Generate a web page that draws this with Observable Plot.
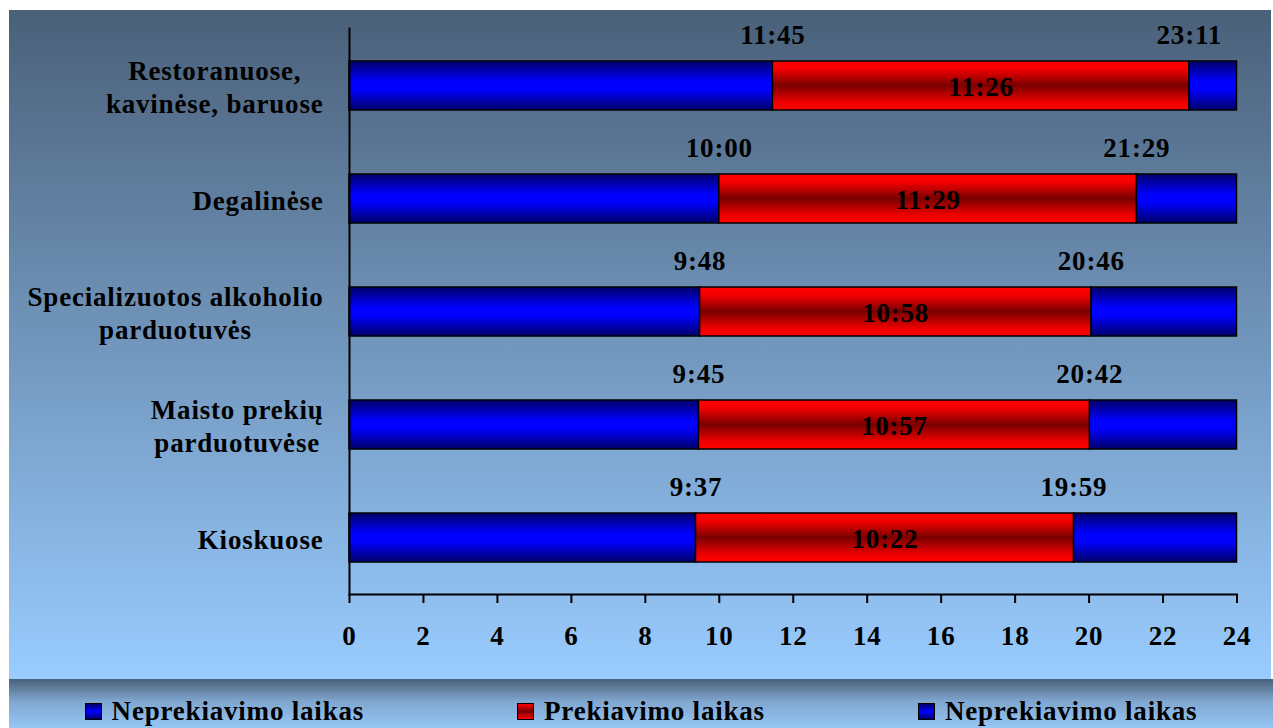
<!DOCTYPE html>
<html>
<head>
<meta charset="utf-8">
<script src="https://cdn.jsdelivr.net/npm/d3@7"></script>
<script src="https://cdn.jsdelivr.net/npm/@observablehq/plot@0.6"></script>
<style>
  html, body { margin: 0; padding: 0; background: #fff; }
  body { width: 1273px; height: 728px; overflow: hidden; position: relative;
         font-family: "Liberation Serif", "Times New Roman", serif; }
  #bg { position: absolute; left: 9px; top: 10px; width: 1262px; height: 669px;
        background: linear-gradient(to bottom, #4a6079 0%, #99ccff 100%); }
  #chart { position: absolute; left: 0; top: 0; }
  #legend { position: absolute; left: 9px; top: 679px; width: 1264px; height: 49px;
            background: linear-gradient(to bottom, #4a6079 0%, #7fa6cf 45%, #96c6f4 100%);
            display: flex; justify-content: center; align-items: center; gap: 153px; padding-top: 16px; box-sizing: border-box; }
  .item { display: flex; align-items: center; gap: 10px; font-weight: bold; font-size: 27px; letter-spacing: 0.8px; color: #000; white-space: nowrap; }
  .sw { width: 15px; height: 15px; border: 1.5px solid #000; }
</style>
</head>
<body>
<svg width="0" height="0" style="position:absolute">
  <defs>
    <linearGradient id="gBlue" x1="0" y1="0" x2="0" y2="1">
      <stop offset="0" stop-color="#00006a"/>
      <stop offset="0.42" stop-color="#0000ff"/>
      <stop offset="0.58" stop-color="#0000ff"/>
      <stop offset="1" stop-color="#00006a"/>
    </linearGradient>
    <linearGradient id="gRed" x1="0" y1="0" x2="0" y2="1">
      <stop offset="0" stop-color="#ff0000"/>
      <stop offset="0.15" stop-color="#f80000"/>
      <stop offset="0.5" stop-color="#7a0000"/>
      <stop offset="0.85" stop-color="#f00000"/>
      <stop offset="1" stop-color="#ff0000"/>
    </linearGradient>
  </defs>
</svg>
<div id="bg"></div>
<div id="chart"></div>
<div id="legend"></div>
<script>
// ---- data ----
const categories = [
  "Restoranuose,\nkavinėse, baruose",
  "Degalinėse",
  "Specializuotos alkoholio\nparduotuvės",
  "Maisto prekių\nparduotuvėse",
  "Kioskuose"
];
const openAt = [11.45, 10.00, 9.48, 9.45, 9.37];
const openFor = [11.26, 11.29, 10.58, 10.57, 10.22];
const openLabels = ["11:45", "10:00", "9:48", "9:45", "9:37"];
const durationLabels = ["11:26", "11:29", "10:58", "10:57", "10:22"];
const closeLabels = ["23:11", "21:29", "20:46", "20:42", "19:59"];
const seriesNames = ["Neprekiavimo laikas", "Prekiavimo laikas", "Neprekiavimo laikas"];
const seriesFills = ["blue", "red", "blue"];
const dayHours = 24;
const xTicks = [0, 2, 4, 6, 8, 10, 12, 14, 16, 18, 20, 22, 24];

// ---- derived tables ----
const rows = categories.map((cat, i) => ({
  cat, open: openAt[i], close: openAt[i] + openFor[i],
  openLabel: openLabels[i], durLabel: durationLabels[i], closeLabel: closeLabels[i]
}));
const blueSegs = rows.flatMap(r => [
  {cat: r.cat, x1: 0, x2: r.open},
  {cat: r.cat, x1: r.close, x2: dayHours}
]);
const redSegs = rows.map(r => ({cat: r.cat, x1: r.open, x2: r.close}));

const FONT = "'Liberation Serif', 'Times New Roman', serif";
const LS = 0.8;
const ctx = document.createElement("canvas").getContext("2d");
ctx.font = "bold 27px 'Liberation Serif'";
const blockWidth = c => d3.max(c.split("\n"), line => ctx.measureText(line).width + LS * line.length);

const yLabelMarks = categories.map(c =>
  Plot.text([c], {
    y: d => d, text: d => d, frameAnchor: "left", textAnchor: "middle",
    dx: -(26 + blockWidth(c) / 2), lineHeight: 1.22, fill: "#000"
  })
);

const plot = Plot.plot({
  width: 1273, height: 679,
  marginLeft: 349, marginRight: 36.5, marginTop: 28, marginBottom: 85,
  style: {background: "transparent", color: "#000", fontFamily: FONT, fontSize: "27px",
          fontWeight: "bold", letterSpacing: LS + "px", overflow: "visible"},
  x: {domain: [0, dayHours]},
  y: {domain: categories, paddingInner: 0.567, paddingOuter: 0.2835, axis: null},
  marks: [
    Plot.barX(blueSegs, {y: "cat", x1: "x1", x2: "x2", fill: "url(#gBlue)", stroke: "#000", strokeWidth: 1.5, inset: 0}),
    Plot.barX(redSegs, {y: "cat", x1: "x1", x2: "x2", fill: "url(#gRed)", stroke: "#000", strokeWidth: 1.5, inset: 0}),
    Plot.frame({anchor: "left", strokeWidth: 2}),
    Plot.frame({anchor: "bottom", strokeWidth: 2}),
    Plot.axisX({ticks: xTicks, tickSize: 9, tickPadding: 22, strokeWidth: 2, tickFormat: d => String(d), fill: "#000"}),
    Plot.text(rows, {y: "cat", x: "open", text: "openLabel", dy: -51, fill: "#000"}),
    Plot.text(rows, {y: "cat", x: "close", text: "closeLabel", dy: -51, fill: "#000"}),
    Plot.text(rows, {y: "cat", x: d => (d.open + d.close) / 2, text: "durLabel", dy: 1, fill: "#000"}),
    ...yLabelMarks
  ]
});
document.getElementById("chart").appendChild(plot);

// ---- legend ----
const legend = d3.select("#legend");
seriesNames.forEach((name, i) => {
  const item = legend.append("div").attr("class", "item");
  item.append("div").attr("class", "sw")
    .style("background", seriesFills[i] === "red"
      ? "linear-gradient(to bottom, #ff0000, #7a0000 50%, #ff0000)"
      : "linear-gradient(to bottom, #00006a, #0000ff 50%, #00006a)");
  item.append("span").text(name);
});
</script>
</body>
</html>
